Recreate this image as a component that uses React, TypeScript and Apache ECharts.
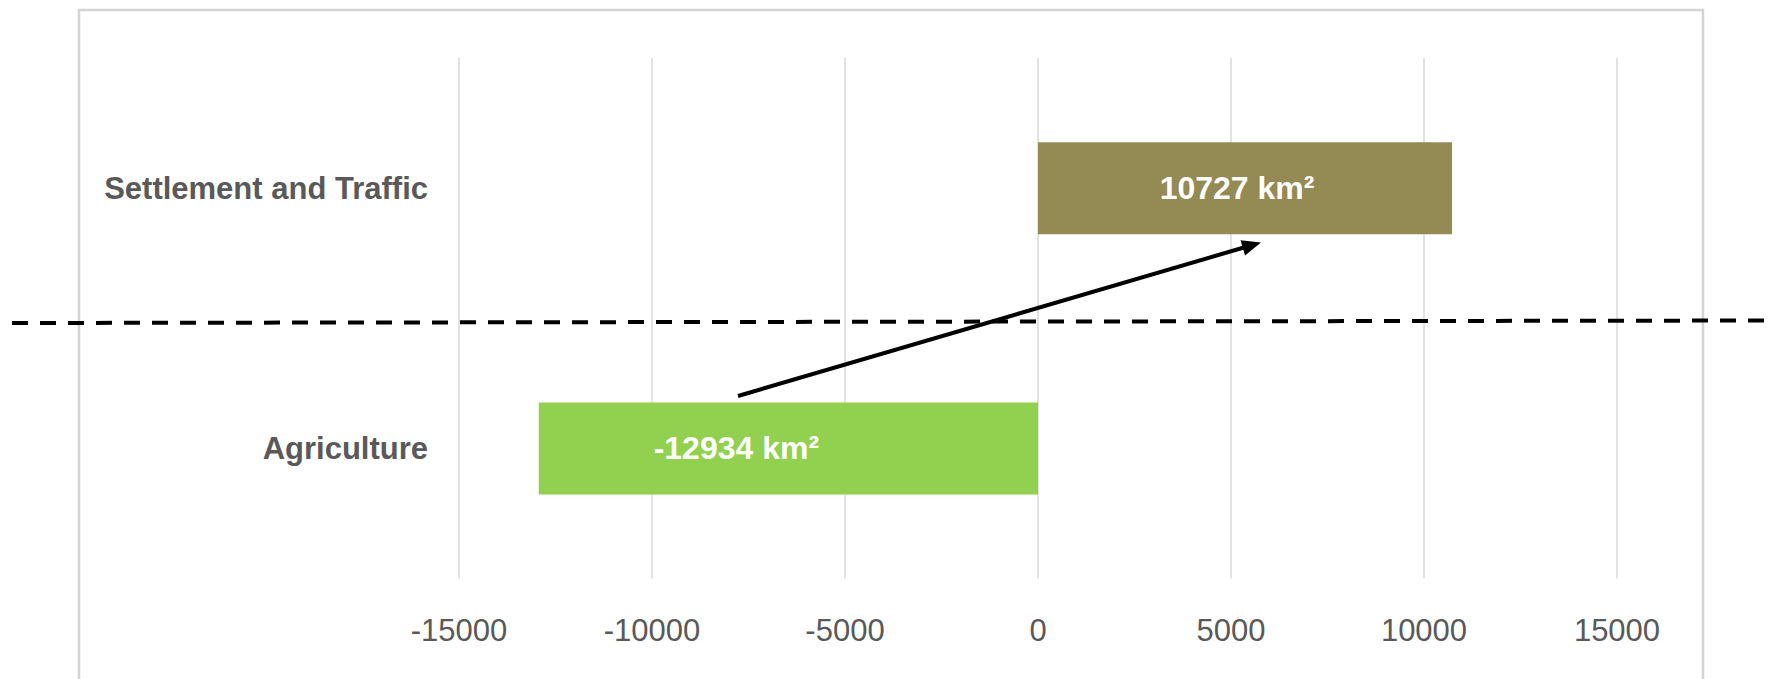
import React, { useEffect, useRef } from "react";
import * as echarts from "echarts";

const categories = ["Agriculture", "Settlement and Traffic"];
const changeValues = [-12934, 10727];
const barColors = ["#92D050", "#948A54"];
const labelOffsets = [[-52, 0], [-8, 0]];
const unit = "km²";

const FONT = "'Liberation Sans', Arial, sans-serif";

export default function App() {
  const ref = useRef<HTMLDivElement>(null);

  useEffect(() => {
    document.body.style.margin = "0";
    if (!ref.current) return;
    const chart = echarts.init(ref.current, undefined, { renderer: "svg" });

    // arrow geometry (annotation)
    const sx = 738, sy = 396, tx = 1261, ty = 242.5;
    const dx = tx - sx, dy = ty - sy;
    const len = Math.sqrt(dx * dx + dy * dy);
    const ux = dx / len, uy = dy / len;
    const hl = 19, hw = 8;
    const bx = tx - hl * ux, by = ty - hl * uy;
    const px = -uy, py = ux;

    chart.setOption({
      animation: false,
      backgroundColor: "#ffffff",
      grid: { left: 459, right: 154, top: 58, bottom: 100.5, containLabel: false },
      xAxis: {
        type: "value",
        min: -15000,
        max: 15000,
        interval: 5000,
        axisLine: { show: false },
        axisTick: { show: false },
        splitLine: { show: true, lineStyle: { color: "#D9D9D9", width: 1.5 } },
        axisLabel: {
          color: "#595959",
          fontSize: 31,
          fontFamily: FONT,
          margin: 36,
          formatter: (v: number) => String(v),
        },
      },
      yAxis: {
        type: "category",
        data: categories,
        axisLine: { show: false },
        axisTick: { show: false },
        splitLine: { show: false },
        axisLabel: {
          color: "#595959",
          fontSize: 31,
          fontWeight: "bold",
          fontFamily: FONT,
          margin: 31,
        },
      },
      series: [
        {
          type: "bar",
          barWidth: 92,
          data: changeValues.map((v, i) => ({
            value: v,
            itemStyle: { color: barColors[i] },
            label: { offset: labelOffsets[i] },
          })),
          label: {
            show: true,
            position: "inside",
            color: "#ffffff",
            fontSize: 32,
            fontWeight: "bold",
            fontFamily: FONT,
            formatter: (p: any) => `${p.value} ${unit}`,
          },
        },
      ],
      graphic: [
        {
          type: "rect",
          shape: { x: 79, y: 10, width: 1624, height: 720 },
          style: { fill: "none", stroke: "#D4D4D4", lineWidth: 2.5 },
          silent: true,
          z: -1,
        },
        {
          type: "line",
          shape: { x1: 12, y1: 323, x2: 1771, y2: 320.5 },
          style: { stroke: "#000000", lineWidth: 4, lineDash: [16, 12] },
          silent: true,
          z: 100,
        },
        {
          type: "line",
          shape: { x1: sx, y1: sy, x2: bx + ux * 2, y2: by + uy * 2 },
          style: { stroke: "#000000", lineWidth: 4 },
          silent: true,
          z: 100,
        },
        {
          type: "polygon",
          shape: {
            points: [
              [tx, ty],
              [bx + hw * px, by + hw * py],
              [bx - hw * px, by - hw * py],
            ],
          },
          style: { fill: "#000000" },
          silent: true,
          z: 100,
        },
      ],
    });

    return () => chart.dispose();
  }, []);

  return <div ref={ref} style={{ width: 1771, height: 679 }} />;
}
